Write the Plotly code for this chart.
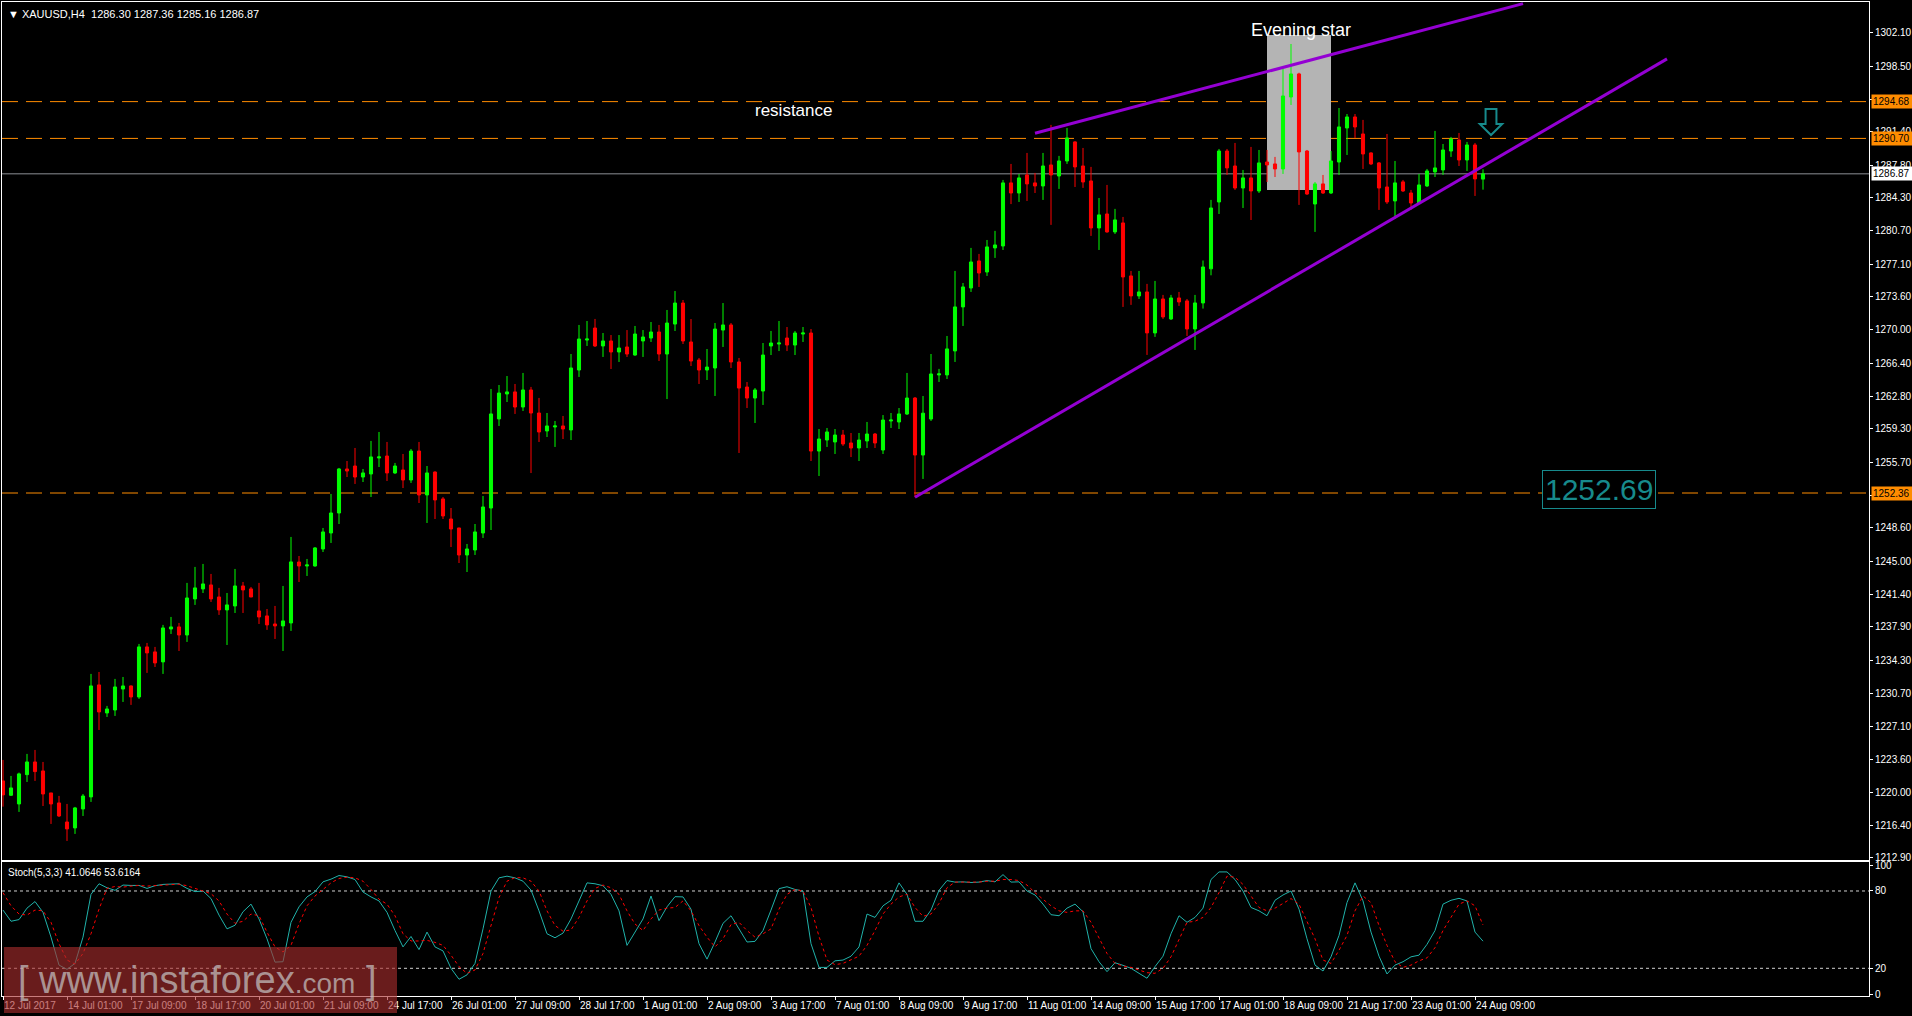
import plotly.graph_objects as go

SYMBOL = "XAUUSD,H4"
LAST_OHLC = [1286.30, 1287.36, 1285.16, 1286.87]
STOCH_LAST = [41.0646, 53.6164]

OPEN = [1221.23, 1219.68, 1218.74, 1221.91, 1223.28, 1222.31, 1219.93, 1218.85, 1216.79, 1216.15,
        1218.20, 1219.50, 1231.61, 1228.58, 1228.90, 1231.17, 1231.50, 1230.31, 1235.72, 1235.18,
        1234.10, 1237.66, 1237.88, 1237.01, 1240.91, 1241.99, 1242.42, 1241.12, 1239.72, 1240.15,
        1242.31, 1241.99, 1239.61, 1239.07, 1238.20, 1237.99, 1238.31, 1244.90, 1244.47, 1244.47,
        1246.31, 1248.04, 1250.20, 1254.96, 1255.28, 1254.09, 1254.42, 1256.15, 1256.36, 1254.53,
        1254.85, 1253.77, 1256.90, 1252.15, 1254.63, 1251.72, 1249.55, 1248.58, 1245.66, 1246.20,
        1248.04, 1250.74, 1260.37, 1263.07, 1263.29, 1261.66, 1263.50, 1261.01, 1259.07, 1259.50,
        1259.61, 1259.18, 1265.66, 1268.90, 1270.20, 1268.26, 1268.80, 1267.61, 1268.15, 1267.28,
        1268.80, 1269.12, 1269.77, 1267.39, 1270.63, 1272.90, 1268.69, 1266.74, 1265.66, 1265.88,
        1269.98, 1270.53, 1266.53, 1263.82, 1262.63, 1263.39, 1268.26, 1268.47, 1269.12, 1268.36,
        1269.55, 1269.66, 1256.90, 1258.09, 1257.88, 1258.63, 1257.77, 1257.23, 1257.99, 1258.74,
        1257.01, 1260.15, 1260.04, 1260.90, 1262.63, 1256.47, 1260.36, 1265.13, 1265.13, 1267.72,
        1272.48, 1274.53, 1277.45, 1276.26, 1278.86, 1279.07, 1285.89, 1284.80, 1286.75, 1285.89,
        1285.56, 1287.83, 1286.64, 1288.26, 1290.32, 1287.72, 1286.10, 1281.02, 1282.53, 1280.59,
        1281.56, 1275.83, 1273.67, 1274.10, 1269.67, 1273.34, 1271.18, 1273.45, 1273.13, 1270.10,
        1272.91, 1276.60, 1283.83, 1289.34, 1287.72, 1285.34, 1286.43, 1285.02, 1288.15, 1287.94,
        1287.40, 1295.18, 1297.67, 1289.34, 1283.61, 1285.78, 1284.80, 1288.15, 1291.83, 1293.02,
        1291.18, 1289.13, 1288.05, 1285.45, 1283.94, 1286.00, 1284.80, 1283.72, 1285.56, 1287.08,
        1287.29, 1289.34, 1290.53, 1288.37, 1289.99, 1286.30]

HIGH = [1223.50, 1221.77, 1222.13, 1224.15, 1224.58, 1223.28, 1219.93, 1219.61, 1218.74, 1218.42,
        1219.82, 1232.80, 1233.01, 1229.34, 1232.26, 1232.47, 1231.55, 1236.04, 1236.15, 1235.72,
        1238.10, 1238.96, 1238.31, 1242.64, 1244.37, 1244.69, 1243.61, 1242.10, 1241.55, 1244.15,
        1242.74, 1242.20, 1242.64, 1239.82, 1240.15, 1242.31, 1247.61, 1245.55, 1245.23, 1246.52,
        1248.58, 1252.26, 1255.07, 1255.82, 1257.23, 1254.96, 1257.99, 1258.96, 1257.88, 1255.61,
        1256.58, 1257.12, 1257.88, 1255.28, 1254.70, 1251.93, 1250.74, 1248.60, 1246.85, 1249.01,
        1252.04, 1263.61, 1264.04, 1265.01, 1264.15, 1265.34, 1263.83, 1262.64, 1261.01, 1260.15,
        1260.69, 1267.39, 1270.53, 1270.96, 1271.18, 1269.66, 1269.44, 1269.44, 1269.98, 1270.42,
        1269.98, 1270.85, 1270.53, 1272.15, 1274.20, 1273.23, 1271.17, 1266.96, 1267.93, 1270.74,
        1272.90, 1270.74, 1266.96, 1264.36, 1263.71, 1268.58, 1269.88, 1270.96, 1270.31, 1269.88,
        1270.31, 1270.09, 1259.28, 1259.39, 1259.28, 1259.18, 1258.85, 1258.85, 1260.04, 1258.85,
        1260.79, 1261.01, 1261.55, 1265.34, 1262.74, 1262.85, 1267.39, 1265.78, 1269.34, 1276.37,
        1275.07, 1278.86, 1278.21, 1279.72, 1280.70, 1286.21, 1287.94, 1286.86, 1289.13, 1286.97,
        1289.13, 1292.16, 1288.81, 1291.83, 1290.40, 1289.67, 1287.62, 1284.26, 1285.67, 1283.08,
        1282.21, 1276.37, 1276.37, 1274.97, 1275.29, 1273.78, 1273.78, 1274.10, 1273.34, 1273.78,
        1277.50, 1284.05, 1289.56, 1289.56, 1290.21, 1287.29, 1289.78, 1289.45, 1289.45, 1288.70,
        1298.21, 1300.91, 1297.80, 1289.45, 1285.99, 1286.75, 1289.34, 1293.99, 1293.34, 1293.34,
        1292.70, 1289.20, 1288.15, 1291.18, 1288.26, 1286.21, 1285.13, 1286.86, 1287.40, 1291.51,
        1290.10, 1290.86, 1291.29, 1290.32, 1290.21, 1287.36]

LOW = [1218.45, 1219.60, 1217.88, 1221.12, 1221.23, 1218.52, 1216.58, 1217.33, 1214.74, 1215.50,
       1217.44, 1218.96, 1226.74, 1228.15, 1228.26, 1229.77, 1229.45, 1230.10, 1232.91, 1233.55,
       1232.80, 1237.12, 1235.28, 1236.26, 1240.26, 1241.55, 1240.58, 1239.18, 1235.93, 1239.39,
       1239.39, 1241.10, 1238.20, 1237.56, 1236.58, 1235.28, 1237.45, 1242.74, 1243.39, 1244.40,
       1245.98, 1246.96, 1249.01, 1254.09, 1253.34, 1253.55, 1251.93, 1255.17, 1253.66, 1254.42,
       1252.90, 1253.45, 1251.28, 1249.12, 1249.55, 1249.55, 1246.52, 1244.79, 1243.82, 1245.66,
       1247.50, 1248.36, 1259.61, 1262.20, 1260.91, 1261.23, 1254.52, 1257.88, 1258.42, 1257.34,
       1258.20, 1258.09, 1264.91, 1268.26, 1268.15, 1267.07, 1265.77, 1266.53, 1267.07, 1267.20,
       1267.07, 1268.69, 1266.63, 1262.52, 1269.88, 1268.47, 1266.09, 1264.15, 1264.58, 1262.85,
       1268.15, 1265.88, 1256.69, 1261.55, 1259.93, 1261.88, 1267.28, 1267.71, 1267.71, 1267.28,
       1268.69, 1255.82, 1254.20, 1257.34, 1256.58, 1257.45, 1256.25, 1255.82, 1257.23, 1257.23,
       1256.58, 1259.39, 1259.28, 1260.80, 1251.90, 1253.88, 1260.15, 1264.37, 1264.69, 1266.53,
       1270.42, 1274.10, 1274.64, 1275.83, 1277.78, 1278.64, 1283.60, 1283.83, 1283.94, 1284.80,
       1284.05, 1281.35, 1285.24, 1287.94, 1285.45, 1285.35, 1280.16, 1278.64, 1280.50, 1280.37,
       1272.48, 1272.70, 1273.34, 1267.29, 1269.24, 1271.18, 1271.07, 1272.59, 1269.34, 1267.83,
       1272.30, 1275.90, 1282.53, 1286.75, 1285.13, 1283.18, 1281.88, 1284.80, 1285.99, 1286.53,
       1286.86, 1294.32, 1283.51, 1284.59, 1280.59, 1284.69, 1284.69, 1286.75, 1288.91, 1290.75,
       1287.40, 1287.83, 1282.97, 1283.61, 1281.99, 1284.91, 1282.97, 1283.61, 1285.45, 1286.53,
       1286.75, 1288.70, 1287.72, 1287.18, 1284.48, 1285.16]

CLOSE = [1219.72, 1220.47, 1221.99, 1223.28, 1222.24, 1219.82, 1218.74, 1217.44, 1216.04, 1218.31,
         1219.60, 1231.50, 1228.69, 1229.01, 1231.39, 1231.50, 1230.31, 1235.72, 1235.07, 1233.99,
         1237.77, 1237.88, 1237.01, 1241.01, 1242.10, 1242.53, 1240.91, 1239.72, 1240.26, 1242.31,
         1241.88, 1241.12, 1238.96, 1238.10, 1237.99, 1238.53, 1244.91, 1244.47, 1244.58, 1246.42,
         1248.15, 1250.20, 1254.96, 1254.74, 1254.09, 1254.53, 1256.26, 1256.26, 1254.53, 1255.28,
         1253.77, 1256.90, 1252.15, 1254.53, 1251.61, 1249.88, 1248.47, 1245.66, 1246.31, 1248.15,
         1250.85, 1260.91, 1263.17, 1263.29, 1261.66, 1263.50, 1261.01, 1258.96, 1259.61, 1259.61,
         1259.28, 1265.88, 1269.01, 1269.01, 1268.26, 1268.80, 1267.61, 1268.04, 1267.39, 1269.55,
         1269.23, 1269.77, 1267.39, 1270.74, 1272.90, 1268.80, 1266.63, 1265.66, 1265.98, 1270.09,
         1270.53, 1266.53, 1263.71, 1262.63, 1263.50, 1267.28, 1268.58, 1268.58, 1268.36, 1269.66,
         1269.66, 1256.90, 1258.20, 1258.96, 1258.63, 1257.66, 1257.23, 1258.09, 1258.74, 1257.77,
         1260.25, 1260.25, 1260.91, 1262.63, 1256.47, 1260.99, 1265.23, 1265.24, 1267.94, 1272.48,
         1274.64, 1277.34, 1276.15, 1278.97, 1279.18, 1285.89, 1284.80, 1286.43, 1285.78, 1285.56,
         1287.72, 1286.75, 1288.26, 1290.75, 1287.62, 1285.99, 1281.02, 1282.43, 1280.59, 1281.89,
         1275.72, 1273.67, 1274.10, 1269.67, 1273.34, 1271.40, 1273.45, 1273.02, 1270.10, 1272.91,
         1276.80, 1283.18, 1289.34, 1287.51, 1285.34, 1286.43, 1285.02, 1288.05, 1287.83, 1287.40,
         1295.29, 1297.67, 1289.24, 1284.69, 1285.78, 1284.80, 1288.26, 1291.94, 1293.02, 1291.94,
         1289.02, 1287.94, 1285.34, 1283.83, 1285.89, 1285.02, 1283.72, 1285.67, 1287.18, 1287.51,
         1289.45, 1290.64, 1288.37, 1289.99, 1286.32, 1286.87]

STOCH_MAIN = [65.2, 56.5, 57.8, 66.7, 71.8, 63.4, 44.2, 22.5, 19.2, 23.8,
              44.2, 77.4, 85.6, 82.5, 80.5, 84.6, 84.3, 84.3, 82.0, 84.1,
              85.1, 85.3, 85.6, 82.0, 79.5, 80.0, 74.1, 61.3, 50.6, 53.4,
              63.9, 69.8, 58.3, 42.9, 24.8, 25.1, 55.7, 67.7, 75.4, 79.5,
              87.1, 89.2, 92.0, 91.0, 88.9, 79.2, 75.4, 72.3, 63.4, 49.3,
              36.6, 44.7, 34.5, 48.1, 36.6, 33.5, 20.0, 11.5, 14.9, 23.8,
              50.6, 80.0, 90.2, 91.5, 90.2, 87.6, 80.7, 64.6, 46.8, 43.7,
              47.3, 58.3, 72.3, 86.3, 85.6, 84.1, 77.4, 64.6, 37.8, 48.1,
              58.3, 76.1, 57.0, 67.7, 75.6, 75.4, 65.9, 39.1, 27.1, 40.4,
              54.9, 60.8, 50.6, 40.4, 40.9, 49.3, 65.2, 81.8, 83.3, 81.2,
              80.0, 39.1, 20.7, 20.7, 25.8, 26.4, 29.4, 36.6, 62.1, 59.5,
              68.5, 72.8, 86.3, 77.4, 56.5, 56.5, 65.2, 80.5, 88.1, 86.9,
              87.1, 86.6, 86.9, 88.1, 87.1, 92.7, 86.9, 87.1, 80.0, 76.9,
              69.8, 61.6, 60.8, 66.7, 69.8, 63.9, 35.3, 25.1, 17.4, 24.3,
              22.3, 20.0, 16.1, 12.3, 21.3, 29.4, 46.8, 60.8, 55.7, 59.5,
              66.7, 88.9, 94.8, 94.8, 88.9, 80.0, 67.2, 64.6, 60.8, 72.8,
              76.9, 80.0, 65.9, 42.9, 22.5, 17.9, 28.9, 45.5, 71.0, 86.3,
              72.3, 48.1, 29.4, 15.6, 22.5, 25.1, 28.9, 30.2, 38.6, 49.3,
              69.8, 72.8, 74.3, 72.3, 48.1, 41.06]

STOCH_SIGNAL = [78.7, 68.5, 62.1, 61.3, 65.2, 64.6, 55.7, 39.1, 26.4, 23.3,
                31.5, 46.8, 65.9, 82.0, 83.5, 83.0, 83.8, 84.3, 83.8, 84.1,
                84.3, 85.1, 85.3, 84.1, 82.0, 79.5, 77.9, 72.3, 62.1, 54.9,
                56.5, 62.1, 60.8, 48.1, 36.6, 32.7, 37.8, 54.4, 68.5, 76.1,
                81.2, 86.3, 89.7, 90.7, 90.2, 87.6, 81.2, 73.6, 69.8, 60.8,
                46.8, 41.2, 41.2, 41.7, 40.1, 37.8, 30.2, 21.3, 16.1, 18.7,
                31.5, 53.2, 74.9, 87.6, 90.4, 90.2, 87.6, 80.0, 64.6, 53.2,
                48.8, 49.8, 59.5, 72.3, 82.0, 84.6, 82.5, 77.4, 64.6, 54.4,
                49.3, 58.3, 65.2, 66.7, 67.2, 72.3, 64.6, 53.2, 44.2, 36.6,
                42.9, 53.9, 55.7, 49.3, 44.2, 46.8, 50.6, 65.9, 77.4, 81.2,
                80.0, 67.2, 44.7, 26.4, 22.8, 23.8, 26.4, 29.4, 37.8, 49.3,
                62.1, 69.8, 75.4, 77.4, 67.2, 60.3, 62.1, 70.3, 82.5, 86.9,
                86.9, 86.9, 86.9, 87.6, 87.6, 88.9, 88.9, 88.1, 84.6, 78.7,
                73.6, 68.5, 64.6, 63.4, 64.6, 64.6, 55.7, 43.7, 31.5, 23.8,
                21.8, 20.7, 18.7, 16.6, 16.1, 20.0, 28.9, 42.2, 55.7, 56.5,
                59.5, 67.2, 78.7, 91.5, 90.7, 85.1, 76.1, 67.2, 64.6, 66.7,
                70.3, 74.1, 69.8, 57.0, 42.9, 26.4, 23.8, 34.0, 45.5, 64.6,
                76.1, 71.0, 53.2, 37.8, 25.1, 20.7, 22.5, 25.8, 28.1, 36.0,
                49.3, 59.5, 69.8, 72.3, 68.5, 53.6]

DATE_TICK_BARS = list(range(0, 185, 8))
DATE_TICK_LABELS = ["12 Jul 2017", "14 Jul 01:00", "17 Jul 09:00", "18 Jul 17:00", "20 Jul 01:00",
                    "21 Jul 09:00", "24 Jul 17:00", "26 Jul 01:00", "27 Jul 09:00", "28 Jul 17:00",
                    "1 Aug 01:00", "2 Aug 09:00", "3 Aug 17:00", "7 Aug 01:00", "8 Aug 09:00",
                    "9 Aug 17:00", "11 Aug 01:00", "14 Aug 09:00", "15 Aug 17:00", "17 Aug 01:00",
                    "18 Aug 09:00", "21 Aug 17:00", "23 Aug 01:00", "24 Aug 09:00"]

PRICE_TICKS = [1302.10, 1298.50, 1294.90, 1291.40, 1287.80, 1284.30, 1280.70, 1277.10, 1273.60,
               1270.00, 1266.40, 1262.80, 1259.30, 1255.70, 1252.10, 1248.60, 1245.00, 1241.40,
               1237.90, 1234.30, 1230.70, 1227.10, 1223.60, 1220.00, 1216.40, 1212.90]
STOCH_TICKS = [0, 20, 80, 100]
STOCH_LEVELS = [20, 80]

RESISTANCE_LEVELS = [1294.68, 1290.70, 1252.36]
BID_PRICE = 1286.87
TARGET_PRICE = 1252.69

LOWER_TREND_BARS = [114, 208]
LOWER_TREND_PRICES = [1251.9, 1299.3]
UPPER_TREND_BARS = [129, 190]
UPPER_TREND_PRICES = [1291.26, 1305.27]
PATTERN_BARS = [158, 166]
PATTERN_PRICES = [1285.13, 1301.88]

assert len(OPEN) == len(HIGH) == len(LOW) == len(CLOSE) == len(STOCH_MAIN) == len(STOCH_SIGNAL)
BARS = list(range(len(OPEN)))

FONT = "Liberation Sans, Arial, sans-serif"
WHITE = "#ffffff"
ORANGE = "#ff8c00"
TEAL = "#178a8c"

fig = go.Figure()

fig.add_trace(go.Candlestick(
    x=BARS, open=OPEN, high=HIGH, low=LOW, close=CLOSE,
    increasing=dict(line=dict(color="#00ff00", width=1), fillcolor="#00ff00"),
    decreasing=dict(line=dict(color="#ff0000", width=1), fillcolor="#ff0000"),
    whiskerwidth=0, xaxis="x", yaxis="y", hoverinfo="skip", showlegend=False))

for bx, py in ((LOWER_TREND_BARS, LOWER_TREND_PRICES), (UPPER_TREND_BARS, UPPER_TREND_PRICES)):
    fig.add_trace(go.Scatter(x=bx, y=py, mode="lines", line=dict(color="#9400d3", width=3),
                             xaxis="x", yaxis="y", hoverinfo="skip", showlegend=False, cliponaxis=True))

fig.add_trace(go.Scatter(x=BARS, y=STOCH_MAIN, mode="lines", line=dict(color="#20b2aa", width=1),
                         xaxis="x2", yaxis="y2", hoverinfo="skip", showlegend=False))
fig.add_trace(go.Scatter(x=BARS, y=STOCH_SIGNAL, mode="lines",
                         line=dict(color="#ff0000", width=1, dash="3px,3px"),
                         xaxis="x2", yaxis="y2", hoverinfo="skip", showlegend=False))

W, H = 1912, 1016
ML, MR, MT, MB = 2, 43, 2, 20
plot_w = W - ML - MR
plot_h = H - MT - MB
price_bottom = (H - MB - 860) / plot_h
stoch_top = (H - MB - 862) / plot_h

X_RANGE = [-0.125, 233.25]
Y_RANGE = [1212.68, 1305.45]
S_RANGE = [-1.5, 102.5]

axis_common = dict(showgrid=False, zeroline=False, showline=True, mirror=True,
                   linecolor=WHITE, linewidth=1, fixedrange=True, automargin=False)

fig.update_layout(
    width=W, height=H, margin=dict(l=ML, r=MR, t=MT, b=MB, pad=0, autoexpand=False),
    paper_bgcolor="#000000", plot_bgcolor="#000000",
    font=dict(family=FONT, size=10, color=WHITE),
    showlegend=False, boxgap=0.45, hovermode=False,
    xaxis=dict(domain=[0, 1], range=X_RANGE, anchor="y", showticklabels=False, ticks="",
               rangeslider=dict(visible=False), **axis_common),
    yaxis=dict(domain=[price_bottom, 1], range=Y_RANGE, anchor="x", side="right",
               tickvals=PRICE_TICKS, ticktext=[f"{v:.2f}" for v in PRICE_TICKS],
               ticks="outside", ticklen=3, tickcolor=WHITE, tickfont=dict(size=10, color=WHITE),
               **axis_common),
    xaxis2=dict(domain=[0, 1], range=X_RANGE, anchor="y2", tickvals=DATE_TICK_BARS,
                ticktext=DATE_TICK_LABELS, ticks="outside", ticklen=3, tickcolor=WHITE,
                tickangle=0, ticklabelposition="outside right",
                tickfont=dict(size=10, color=WHITE), **axis_common),
    yaxis2=dict(domain=[0, stoch_top], range=S_RANGE, anchor="x2", side="right",
                tickvals=STOCH_TICKS, ticktext=[str(v) for v in STOCH_TICKS],
                ticks="outside", ticklen=3, tickcolor=WHITE, tickfont=dict(size=10, color=WHITE),
                **axis_common),
)

shapes = []
shapes.append(dict(type="rect", xref="x", yref="y", x0=PATTERN_BARS[0], x1=PATTERN_BARS[1],
                   y0=PATTERN_PRICES[0], y1=PATTERN_PRICES[1], fillcolor="#b4b4b4",
                   line=dict(width=0), layer="below"))
for lv in RESISTANCE_LEVELS:
    shapes.append(dict(type="line", xref="paper", yref="y", x0=0, x1=1, y0=lv, y1=lv,
                       line=dict(color=ORANGE, width=1, dash="16px,8px"), layer="below"))
shapes.append(dict(type="line", xref="paper", yref="y", x0=0, x1=1, y0=BID_PRICE, y1=BID_PRICE,
                   line=dict(color="#8c8f96", width=1), layer="below"))
for lv in STOCH_LEVELS:
    shapes.append(dict(type="line", xref="paper", yref="y2", x0=0, x1=1, y0=lv, y1=lv,
                       line=dict(color="#d0d0d0", width=1, dash="3px,3px"), layer="below"))

# down arrow (signal) above the last candle
ab = len(OPEN) + 0.0
a_top, a_neck, a_tip = 1293.88, 1292.26, 1291.07
sh, hh = 0.68, 1.4
path = (f"M {ab - sh},{a_top} L {ab + sh},{a_top} L {ab + sh},{a_neck} L {ab + hh},{a_neck} "
        f"L {ab},{a_tip} L {ab - hh},{a_neck} L {ab - sh},{a_neck} Z")
shapes.append(dict(type="path", xref="x", yref="y", path=path,
                   line=dict(color=TEAL, width=2), fillcolor="rgba(0,0,0,0)"))

# watermark box
shapes.append(dict(type="rect", xref="paper", yref="paper",
                   x0=(4 - ML) / plot_w, x1=(397 - ML) / plot_w,
                   y0=(H - MB - 1013) / plot_h, y1=(H - MB - 947) / plot_h,
                   fillcolor="rgba(170,45,45,0.62)", line=dict(width=0), layer="above"))
fig.update_layout(shapes=shapes)

ann = []
ann.append(dict(xref="paper", yref="paper", x=0.002, y=1, yshift=-4, xanchor="left", yanchor="top",
                text=f"▼ {SYMBOL}  " + " ".join(f"{v:.2f}" for v in LAST_OHLC),
                showarrow=False, font=dict(size=11, color=WHITE, family=FONT)))
ann.append(dict(xref="paper", yref="y2", x=0.002, y=S_RANGE[1], yshift=-3, xanchor="left",
                yanchor="top", text=f"Stoch(5,3,3) {STOCH_LAST[0]:.4f} {STOCH_LAST[1]:.4f}",
                showarrow=False, font=dict(size=10, color=WHITE, family=FONT)))
ann.append(dict(xref="x", yref="y", x=98.75, y=1293.77, text="resistance", showarrow=False,
                xanchor="center", yanchor="middle", font=dict(size=17, color=WHITE, family=FONT)))
ann.append(dict(xref="x", yref="y", x=162.25, y=1302.42, text="Evening star", showarrow=False,
                xanchor="center", yanchor="middle", font=dict(size=18, color=WHITE, family=FONT)))
ann.append(dict(xref="x", yref="y", x=199.5, y=TARGET_PRICE, text=f"{TARGET_PRICE:.2f}",
                showarrow=False, xanchor="center", yanchor="middle",
                font=dict(size=30, color=TEAL, family=FONT),
                bordercolor=TEAL, borderwidth=1, borderpad=2, bgcolor="#000000"))
for lv in RESISTANCE_LEVELS:
    ann.append(dict(xref="paper", yref="y", x=1, xshift=2, y=lv, xanchor="left", yanchor="middle",
                    text=f"{lv:.2f}", showarrow=False, bgcolor=ORANGE, width=38, align="left",
                    borderpad=1, font=dict(size=10, color="#000000", family=FONT)))
ann.append(dict(xref="paper", yref="y", x=1, xshift=2, y=BID_PRICE, xanchor="left", yanchor="middle",
                text=f"{BID_PRICE:.2f}", showarrow=False, bgcolor=WHITE, width=38, align="left",
                borderpad=1, font=dict(size=10, color="#000000", family=FONT)))
ann.append(dict(xref="paper", yref="paper", x=(197 - ML) / plot_w, y=(H - MB - 980) / plot_h,
                xanchor="center", yanchor="middle",
                text="[ www.instaforex<span style='font-size:28px'>.com</span> ]", showarrow=False,
                font=dict(size=38, color="rgba(200,200,200,0.7)", family=FONT)))
fig.update_layout(annotations=ann)

fig.write_html("out.html", include_plotlyjs=True, config={"displayModeBar": False},
               post_script="document.body.style.margin='0';document.body.style.overflow='hidden';")
